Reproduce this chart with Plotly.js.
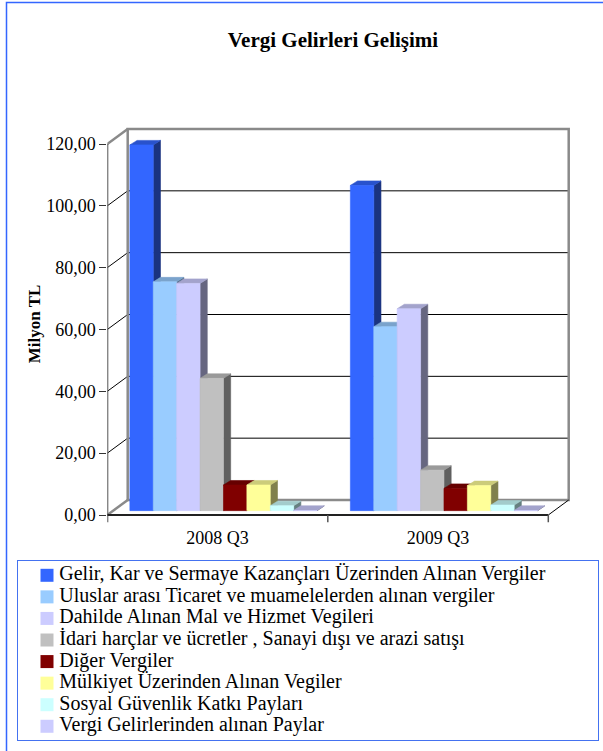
<!DOCTYPE html>
<html>
<head>
<meta charset="utf-8">
<script src="https://cdn.plot.ly/plotly-3.0.1.min.js"></script>
<style>html,body{margin:0;padding:0;background:#fff;}#chart{width:603px;height:751px;}</style>
</head>
<body>
<div id="chart"></div>
<script>
// ---------- data ----------
const chartTitle = 'Vergi Gelirleri Gelişimi';
const yAxisTitle = 'Milyon TL';
const categories = ['2008 Q3', '2009 Q3'];
const seriesNames = [
  'Gelir, Kar ve Sermaye Kazançları Üzerinden Alınan Vergiler',
  'Uluslar arası Ticaret ve muamelelerden alınan vergiler',
  'Dahilde Alınan Mal ve Hizmet Vegileri',
  'İdari harçlar ve ücretler , Sanayi dışı ve arazi satışı',
  'Diğer Vergiler',
  'Mülkiyet Üzerinden Alınan Vegiler',
  'Sosyal Güvenlik Katkı Payları',
  'Vergi Gelirlerinden alınan Paylar'
];
const seriesColors = ['#3366FF', '#99CCFF', '#CCCCFF', '#C0C0C0', '#800000', '#FFFF99', '#CCFFFF', '#CCCCFF'];
const values2008Q3 = [118.3, 74.0, 73.5, 42.8, 8.3, 8.3, 1.6, 0.1];
const values2009Q3 = [105.2, 59.5, 65.3, 13.1, 7.2, 8.1, 1.8, 0.1];
const yTickVals = [0, 20, 40, 60, 80, 100, 120];
const yTickText = ['0,00', '20,00', '40,00', '60,00', '80,00', '100,00', '120,00'];

const valuesByCategory = [values2008Q3, values2009Q3];

// ---------- geometry (layout constants) ----------
const W = 603, H = 751;
const PX_X = 220.5;            // px per category unit
const PX_Y = 371 / 120;        // px per value unit
const X0 = 107.3, Y0 = 515;    // front-plane origin in px
const xPlotRight = 574.5, yPlotTop = 125.4, yPlotBot = 522.4;
const xRange = [0, (xPlotRight - X0) / PX_X];
const yRange = [-(yPlotBot - Y0) / PX_Y, (Y0 - yPlotTop) / PX_Y];
const DX = 20.4 / PX_X, DY = 15 / PX_Y;      // wall depth
const BX0 = 0.29 * DX, BY0 = 0.29 * DY;      // bar plane offset
const BDX = 7.2 / PX_X, BDY = 4.5 / PX_Y;    // bar depth
const nS = seriesNames.length, nC = categories.length;
const BW = 23.4 / PX_X;
const gapL = (1 - nS * BW) / 2;
const yMax = yTickVals[yTickVals.length - 1];

function shade(hex, f) {
  const n = parseInt(hex.slice(1), 16);
  const r = Math.round(((n >> 16) & 255) * f), g = Math.round(((n >> 8) & 255) * f), b = Math.round((n & 255) * f);
  return 'rgb(' + r + ',' + g + ',' + b + ')';
}

const traces = [];
for (let k = 0; k < nS; k++) {
  const side = {x: [], y: []}, top = {x: [], y: []}, front = {x: [], y: []};
  for (let i = 0; i < nC; i++) {
    const v = valuesByCategory[i][k];
    const xl = i + gapL + k * BW + BX0, xr = xl + BW;
    const y0 = BY0, yt = BY0 + v;
    side.x.push(xr, xr + BDX, xr + BDX, xr, xr, null);
    side.y.push(y0, y0 + BDY, yt + BDY, yt, y0, null);
    top.x.push(xl, xr, xr + BDX, xl + BDX, xl, null);
    top.y.push(yt, yt, yt + BDY, yt + BDY, yt, null);
    front.x.push(xl, xr, xr, xl, xl, null);
    front.y.push(y0, y0, yt, yt, y0, null);
  }
  const faces = [[side, shade(seriesColors[k], 0.5)], [top, shade(seriesColors[k], 0.8)], [front, seriesColors[k]]];
  faces.forEach(([p, c]) => {
    traces.push({
      type: 'scatter', mode: 'lines', x: p.x, y: p.y, fill: 'toself', fillcolor: c,
      line: {color: c, width: 0.6}, hoverinfo: 'skip', showlegend: false, name: seriesNames[k],
      xaxis: 'x', yaxis: 'y'
    });
  });
}

// legend built in its own small subplot
const legendIdx = seriesNames.map((_, i) => i);
traces.push({
  type: 'scatter', mode: 'markers', x: seriesNames.map(() => 28.7), y: legendIdx,
  marker: {symbol: 'square', size: 13, color: seriesColors, line: {width: 0}},
  hoverinfo: 'skip', showlegend: false, xaxis: 'x2', yaxis: 'y2', cliponaxis: false
});
traces.push({
  type: 'scatter', mode: 'text', x: seriesNames.map(() => 41), y: legendIdx, text: seriesNames,
  textposition: 'middle right', textfont: {family: 'Liberation Serif', size: 20, color: '#000'},
  hoverinfo: 'skip', showlegend: false, xaxis: 'x2', yaxis: 'y2', cliponaxis: false
});

// ---------- frame shapes ----------
const shapes = [];
const L = (x0, y0, x1, y1, color, width) => shapes.push({type: 'line', xref: 'x', yref: 'y', x0, y0, x1, y1, line: {color, width}, layer: 'below'});
// back wall gridlines and side-wall diagonals
yTickVals.slice(1, -1).forEach(v => {
  L(DX, v + DY, nC + DX, v + DY, '#000', 1);
  L(0, v, DX, v + DY, '#000', 1);
});
// back wall
shapes.push({type: 'rect', xref: 'x', yref: 'y', x0: DX, y0: DY, x1: nC + DX, y1: yMax + DY, line: {color: '#8a8a8a', width: 2.5}, layer: 'below'});
// side wall edges
L(0, yMax, DX, yMax + DY, '#8a8a8a', 2.5);
L(0, 0, DX, DY, '#8a8a8a', 2.5);
// floor right diagonal
L(nC, 0, nC + DX, DY, '#000', 1);
// front axis lines
L(0, yRange[0], 0, yMax, '#555', 2);
L(0, 0, nC, 0, '#222', 2);
for (let i = 1; i <= nC; i++) L(i, 0, i, yRange[0], '#555', 1.5);
// outer chart border
shapes.push({type: 'rect', xref: 'paper', yref: 'paper', x0: 6.5 / W, y0: -0.05, x1: 1.05, y1: 1 - 2.5 / H, line: {color: '#3366FF', width: 1.5}});

const serif = 'Liberation Serif';
const layout = {
  width: W, height: H,
  margin: {l: 0, r: 0, t: 0, b: 0},
  paper_bgcolor: '#fff', plot_bgcolor: 'rgba(0,0,0,0)',
  showlegend: false,
  title: {text: '<b>' + chartTitle + '</b>', font: {family: serif, size: 21, color: '#000'}, x: 333 / W, xanchor: 'center', y: 1 - 40 / H, yanchor: 'middle'},
  xaxis: {
    domain: [X0 / W, xPlotRight / W], range: xRange, showgrid: false, zeroline: false, showline: false,
    tickvals: categories.map((c, i) => i + 0.5), ticktext: categories, ticks: '', ticklabelstandoff: 3,
    tickfont: {family: serif, size: 18, color: '#000'}, fixedrange: true
  },
  yaxis: {
    domain: [1 - yPlotBot / H, 1 - yPlotTop / H], range: yRange, showgrid: false, zeroline: false, showline: false,
    tickvals: yTickVals, ticktext: yTickText, ticks: 'outside', ticklen: 7, tickwidth: 1, tickcolor: '#333',
    tickfont: {family: serif, size: 18, color: '#000'}, fixedrange: true,
    title: {text: '<b>' + yAxisTitle + '</b>', font: {family: serif, size: 17, color: '#000'}, standoff: 1}
  },
  xaxis2: {
    domain: [18.3 / W, 597.7 / W], range: [0, 579.4], anchor: 'y2', showgrid: false, zeroline: false,
    showticklabels: false, ticks: '', showline: true, mirror: true, linecolor: '#4472F0', linewidth: 1.2, fixedrange: true
  },
  yaxis2: {
    domain: [1 - 740 / H, 1 - 560.7 / H], range: [7.636, -0.677], anchor: 'x2', showgrid: false, zeroline: false,
    showticklabels: false, ticks: '', showline: true, mirror: true, linecolor: '#4472F0', linewidth: 1.2, fixedrange: true
  },
  shapes: shapes
};

Plotly.newPlot('chart', traces, layout, {staticPlot: true, displayModeBar: false});
</script>
</body>
</html>
